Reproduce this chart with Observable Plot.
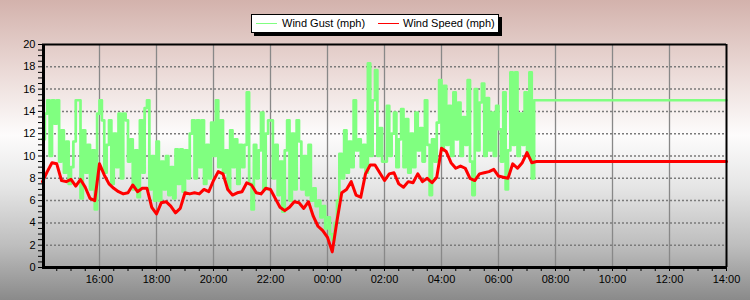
<!DOCTYPE html>
<html>
<head>
<meta charset="utf-8">
<script src="https://cdn.jsdelivr.net/npm/d3@7"></script>
<script src="https://cdn.jsdelivr.net/npm/@observablehq/plot@0.6"></script>
<style>
  html, body { margin: 0; padding: 0; width: 750px; height: 300px; overflow: hidden; }
  body { background: linear-gradient(to bottom, #d3b2ac 0%, #ecdcd9 25%, #fdfcfc 45%, #e6e6e6 62%, #bdbdbd 82%, #8a8a8a 100%); font-family: "Liberation Sans", Arial, sans-serif; }
  #wrap { position: relative; width: 750px; height: 300px; }
  #legend { position: absolute; left: 251px; top: 14px; width: 246px; height: 17px; background: #fff; border: 1px solid #000; box-shadow: 3px 3px 0 #000; }
  .sw { position: absolute; top: 8px; width: 21px; height: 1px; }
  .lt { position: absolute; top: 1px; font-size: 11px; line-height: 14px; color: #000; white-space: nowrap; }
</style>
</head>
<body>
<div id="wrap"></div>
<script>
// ---- data ----
const seriesNames = ["Wind Gust (mph)", "Wind Speed (mph)"];
const seriesColors = ["#80ff80", "#ff0000"];
// wind speed, one reading every 10 minutes from 14:00 (to 07:20)
const speed = [
  7.7, 8.6, 9.4, 9.3, 7.8, 7.7, 7.9, 7.3, 7.9, 7.2, 6.2, 6.0,
  9.3, 8.3, 7.5, 7.1, 6.8, 6.6, 6.7, 7.4, 6.8, 7.1, 7.1, 5.4,
  4.8, 5.8, 5.9, 5.5, 4.9, 5.3, 6.7, 6.6, 6.7, 6.6, 7.0, 6.8,
  7.8, 8.6, 8.4, 7.0, 6.5, 6.7, 6.8, 7.6, 7.4, 6.7, 6.6, 7.1,
  7.0, 6.2, 5.4, 5.1, 5.4, 5.9, 5.8, 5.3, 5.9, 4.6, 3.7, 3.3,
  2.7, 1.4, 4.2, 6.7, 7.0, 7.7, 6.5, 6.3, 8.4, 9.2, 9.2, 8.5,
  7.8, 8.4, 8.5, 7.5, 7.2, 7.7, 7.6, 8.4, 7.7, 8.0, 7.6, 8.1,
  10.7, 10.4, 9.4, 8.9, 9.1, 8.9, 8.0, 7.8, 8.4, 8.5, 8.6, 8.8,
  8.2, 8.1, 8.0, 9.3, 8.9, 9.4, 10.3, 9.4, 9.5
];
// wind gust, one reading every 5 minutes from 14:00 (to 07:15)
const gust = [
  11.5, 13.8, 15, 10, 15, 12.9, 15, 9.5, 12.3, 8.5, 11.3, 7.5,
  9, 11.3, 15, 15, 6.2, 12.3, 8.5, 11, 7, 10.5, 5.2, 13.8,
  15, 13.2, 8.5, 11, 13.2, 7.5, 12, 9, 13.8, 8, 13.8, 13.2,
  9.5, 11.5, 7, 10.5, 6.3, 13.2, 8.5, 14.3, 15, 7, 10, 6,
  11.3, 6, 9.5, 7, 10, 6.5, 9, 6.2, 10.6, 7.5, 10.6, 6.8,
  10.5, 8, 12, 13.2, 8, 13.2, 9, 13.2, 7.5, 11, 8, 13,
  10, 15, 9, 13.2, 8.5, 10.5, 7, 12.3, 9, 11.5, 7.5, 11,
  9, 11, 15.7, 7.5, 5.2, 11, 8, 10.5, 13.9, 7, 12, 13.2,
  13.2, 8, 11, 6.5, 9.5, 5, 10.5, 13.2, 6, 12, 7, 13.2,
  11.3, 7, 10, 6.5, 11, 6, 7.1, 5.5, 6, 4.5, 5.5, 3.5,
  4.5, 3, 2.5, 4, 6, 10.2, 8, 12.3, 8.5, 11.3, 9, 15,
  10.5, 11.5, 9, 11, 8.5, 18.3, 10, 15, 17.7, 10, 12.5, 9.5,
  9.5, 14.5, 10, 12, 13.9, 9, 11.5, 14.2, 9, 13.3, 8.5, 12,
  9, 13.9, 10.5, 12.5, 9.5, 15, 11, 6.5, 11.5, 9.5, 13, 16.8,
  10.5, 16.3, 11, 14.5, 10, 15.7, 11.5, 14.8, 10, 13.5, 11, 16.8,
  9.5, 6.5, 16, 10.5, 14.8, 16.5, 10, 15.2, 10.5, 13.9, 10, 14.5,
  12.4, 9.5, 15.7, 7, 10.5, 17.5, 11, 17.5, 10, 13.8, 11, 15.7,
  10, 17.5, 8
];
const gustNow = 15;     // latest value, held to the end of the chart
const speedNow = 9.5;
const xLabels = ["16:00","18:00","20:00","22:00","00:00","02:00","04:00","06:00","08:00","10:00","12:00","14:00"];
const yLabels = [0, 2, 4, 6, 8, 10, 12, 14, 16, 18, 20];

// ---- build tables ----
const start = new Date(2024, 0, 1, 14, 0);
const end = new Date(2024, 0, 2, 14, 0);
const MIN = 60000;
const speedData = speed.map((v, i) => ({t: new Date(+start + i * 10 * MIN), v}));
speedData.push({t: end, v: speedNow});
const gustData = gust.map((v, i) => ({t: new Date(+start + i * 5 * MIN), v}));
gustData.push({t: new Date(+start + gust.length * 5 * MIN), v: gustNow});
gustData.push({t: end, v: gustNow});

const parseHM = d3.timeParse("%H:%M");
const xMajor = xLabels.map(s => {
  const p = parseHM(s);
  let d = new Date(2024, 0, 1, p.getHours(), p.getMinutes());
  if (d <= start) d = new Date(+d + 24 * 60 * MIN);
  return d;
});
const xMinor = d3.timeMinute.every(30).range(new Date(+start + 30 * MIN), new Date(+end + MIN));
const yMinor = d3.range(0, 20.01, 0.5);
const fmt = d3.timeFormat("%H:%M");
const majorSet = new Set(xMajor.map(d => +d));

const chart = Plot.plot({
  width: 750,
  height: 300,
  marginLeft: 42,
  marginRight: 24,
  marginTop: 44,
  marginBottom: 33,
  style: {background: "transparent", fontFamily: "Liberation Sans, Arial, sans-serif", fontSize: "11px", color: "#000"},
  x: {type: "time", domain: [start, end], label: null},
  y: {domain: [0, 20], label: null},
  marks: [
    Plot.ruleY(yLabels.slice(1, -1), {stroke: "#7a7a7a", strokeWidth: 1.5, strokeDasharray: "2,2"}),
    Plot.ruleX(xMajor.slice(0, -1), {stroke: "#888", strokeWidth: 1.3}),
    Plot.line(gustData, {x: "t", y: "v", stroke: seriesColors[0], strokeWidth: 2.7, curve: "step-after"}),
    Plot.line(speedData, {x: "t", y: "v", stroke: seriesColors[1], strokeWidth: 3, curve: "linear"}),
    Plot.ruleY([20], {stroke: "#000", strokeWidth: 2}),
    Plot.ruleX([end], {stroke: "#000", strokeWidth: 2}),
    Plot.ruleY([0], {stroke: "#000", strokeWidth: 3}),
    Plot.ruleX([start], {stroke: "#000", strokeWidth: 3, dx: 1}),
    Plot.axisY(yMinor, {tickSize: 4, tickPadding: 3, fontSize: 11, tickFormat: d => (yLabels.includes(d) ? String(d) : "")}),
    Plot.axisX(xMinor, {tickSize: 4, tickPadding: 4, fontSize: 11, tickFormat: d => (majorSet.has(+d) ? fmt(d) : "")})
  ]
});
const wrap = document.getElementById("wrap");
wrap.appendChild(chart);

// legend
const lg = document.createElement("div");
lg.id = "legend";
const items = [
  {sw: 4, tx: 30},
  {sw: 126, tx: 151}
];
items.forEach((it, i) => {
  const s = document.createElement("div");
  s.className = "sw";
  s.style.left = it.sw + "px";
  s.style.background = seriesColors[i];
  lg.appendChild(s);
  const t = document.createElement("div");
  t.className = "lt";
  t.style.left = it.tx + "px";
  t.textContent = seriesNames[i];
  lg.appendChild(t);
});
wrap.appendChild(lg);
</script>
</body>
</html>
